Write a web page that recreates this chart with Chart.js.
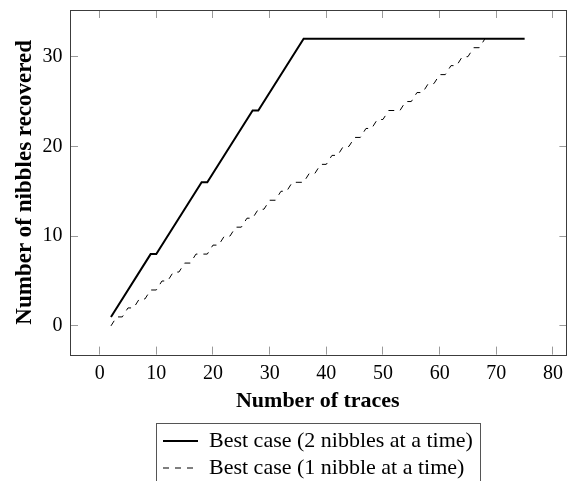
<!DOCTYPE html>
<html>
<head>
<meta charset="utf-8">
<script src="https://cdn.jsdelivr.net/npm/chart.js@4.4.0/dist/chart.umd.min.js"></script>
<style>
html, body { margin: 0; padding: 0; overflow: hidden; background: #fff; }
#wrap { width: 567px; height: 489px; }
</style>
</head>
<body>
<div id="wrap"><canvas id="myChart"></canvas></div>
<script>
// best case, 2 nibbles at a time (corner points of the curve)
const twoNibbleTraces = [2, 9, 10, 18, 19, 27, 28, 36, 75];
const twoNibbleRecovered = [1, 8, 8, 16, 16, 24, 24, 32, 32];

// best case, 1 nibble at a time
const oneNibbleTraces = [2, 3, 4, 5, 6, 7, 8, 9, 10, 11, 12, 13, 14, 15, 16, 17, 18, 19,
    20, 21, 22, 23, 24, 25, 26, 27, 28, 29, 30, 31, 32, 33, 34, 35, 36,
    37, 38, 39, 40, 41, 42, 43, 44, 45, 46, 47, 48, 49, 50, 51, 52, 53,
    54, 55, 56, 57, 58, 59, 60, 61, 62, 63, 64, 65, 66, 67, 68];
const oneNibbleRecovered = [0, 1, 1, 2, 2, 3, 3, 4, 4, 5, 5, 6, 6, 7, 7, 8, 8, 8,
    9, 9, 10, 10, 11, 11, 12, 12, 13, 13, 14, 14, 15, 15, 16, 16, 16,
    17, 17, 18, 18, 19, 19, 20, 20, 21, 21, 22, 22, 23, 23, 24, 24, 24,
    25, 25, 26, 26, 27, 27, 28, 28, 29, 29, 30, 30, 31, 31, 32];

const xTicks = [0, 10, 20, 30, 40, 50, 60, 70, 80];
const yTicks = [0, 10, 20, 30];

const seriesLabels = ['Best case (2 nibbles at a time)', 'Best case (1 nibble at a time)'];

function toPoints(xs, ys) {
    return xs.map((x, i) => ({x: x, y: ys[i]}));
}

// legend sits centred under the plot area, rows left aligned
const legendPlace = {
    id: 'legendPlace',
    afterLayout(chart) {
        const lg = chart.legend;
        const a = chart.chartArea;
        const w = Math.max(...lg.lineWidths);
        lg.left = Math.round((a.left + a.right - w) / 2) - 2;
    }
};

// box around plot + box around legend
const framePlugin = {
    id: 'frame',
    afterDraw(chart) {
        const ctx = chart.ctx;
        const a = chart.chartArea;
        ctx.save();
        ctx.strokeStyle = '#3c3c3c';
        ctx.lineWidth = 1;
        ctx.strokeRect(Math.round(a.left) + 0.5, Math.round(a.top) + 0.5,
            Math.round(a.right - a.left), Math.round(a.bottom - a.top));

        const boxes = chart.legend.legendHitBoxes;
        if (boxes && boxes.length) {
            let l = Infinity, r = -Infinity, t = Infinity, b = -Infinity;
            boxes.forEach(h => {
                l = Math.min(l, h.left);
                r = Math.max(r, h.left + h.width);
                t = Math.min(t, h.top);
                b = Math.max(b, h.top + h.height);
            });
            ctx.strokeStyle = '#555';
            ctx.strokeRect(Math.round(l - 7) + 0.5, Math.round(t - 7) + 0.5,
                Math.round(r - l + 14), Math.round(b - t + 14));
        }
        ctx.restore();
    }
};

Chart.defaults.font.family = '"Liberation Serif", "Times New Roman", serif';
Chart.defaults.font.size = 20;
Chart.defaults.color = '#000';

const ctx = document.getElementById('myChart').getContext('2d');
const myChart = new Chart(ctx, {
    type: 'line',
    data: {
        datasets: [{
            label: seriesLabels[0],
            data: toPoints(twoNibbleTraces, twoNibbleRecovered),
            borderColor: '#000',
            borderWidth: 2,
            pointRadius: 0,
            tension: 0,
            fill: false
        }, {
            label: seriesLabels[1],
            data: toPoints(oneNibbleTraces, oneNibbleRecovered),
            borderColor: '#000',
            borderWidth: 1,
            borderDash: [6, 6],
            pointRadius: 0,
            tension: 0,
            fill: false
        }]
    },
    options: {
        responsive: true,
        maintainAspectRatio: false,
        devicePixelRatio: 1,
        animation: false,
        layout: {
            padding: {left: 10, top: 10, right: 0, bottom: 0}
        },
        plugins: {
            tooltip: {enabled: false},
            legend: {
                position: 'bottom',
                align: 'start',
                labels: {
                    usePointStyle: true,
                    pointStyle: 'line',
                    pointStyleWidth: 35,
                    padding: 5,
                    color: '#000',
                    font: {size: 22},
                    generateLabels(chart) {
                        const items = Chart.defaults.plugins.legend.labels.generateLabels(chart);
                        items.forEach(it => {
                            const ds = chart.data.datasets[it.datasetIndex];
                            it.lineDash = ds.borderDash || [];
                            it.lineWidth = ds.borderWidth;
                            it.strokeStyle = ds.borderColor;
                        });
                        return items;
                    }
                }
            }
        },
        scales: {
            x: {
                type: 'linear',
                min: -5.3,
                max: 82.3,
                afterBuildTicks: scale => { scale.ticks = xTicks.map(v => ({value: v})); },
                afterFit: scale => { scale.paddingRight = 0; },
                ticks: {padding: 7, autoSkip: false, maxRotation: 0},
                grid: {drawTicks: false, color: '#9a9a9a', lineWidth: 1},
                border: {display: false},
                title: {
                    display: true,
                    text: 'Number of traces',
                    font: {size: 22, weight: 'bold'},
                    padding: {top: -4, bottom: 10}
                }
            },
            y: {
                min: -3.2,
                max: 35.2,
                afterBuildTicks: scale => { scale.ticks = yTicks.map(v => ({value: v})); },
                afterFit: scale => { scale.paddingTop = 0; scale.paddingBottom = 0; },
                ticks: {padding: 7},
                grid: {drawTicks: false, color: '#9a9a9a', lineWidth: 1},
                border: {display: false},
                title: {
                    display: true,
                    text: 'Number of nibbles recovered',
                    font: {size: 23, weight: 'bold'},
                    padding: {top: 1, bottom: -3}
                }
            }
        }
    },
    plugins: [legendPlace, framePlugin]
});

// grid lines only as short tick marks inside the box on all four sides
const area = myChart.chartArea;
const plotH = area.bottom - area.top;
const plotW = area.right - area.left;
myChart.options.scales.x.border.dash = [8, plotH - 16, 8, 2000];
myChart.options.scales.y.border.dash = [8, plotW - 16, 8, 2000];
myChart.update('none');
</script>
</body>
</html>
